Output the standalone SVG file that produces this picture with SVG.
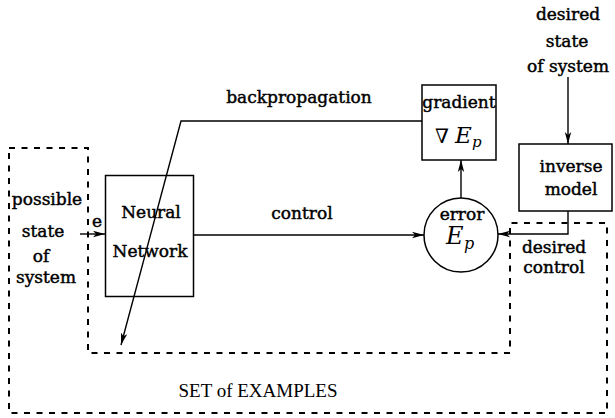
<svg xmlns="http://www.w3.org/2000/svg" width="615" height="418" viewBox="0 0 615 418">
<style>
  .t { font-family: "DejaVu Serif", "Liberation Serif", serif; font-size: 17px; fill: #000; stroke: #000; stroke-width: 0.45; text-anchor: middle; }
  .r { font-family: "Liberation Serif", "DejaVu Serif", serif; font-size: 19px; fill: #000; text-anchor: middle; }
  .m { font-family: "DejaVu Serif", "Liberation Serif", serif; font-style: italic; fill: #000; }
  .box { fill: #fff; stroke: #000; stroke-width: 1.5; }
  .ln { fill: none; stroke: #000; stroke-width: 1.4; }
  .dash { fill: none; stroke: #000; stroke-width: 2; stroke-dasharray: 6 6.5; }
</style>
<defs>
  <marker id="ah" viewBox="0 0 12 8" refX="12" refY="4" markerWidth="12" markerHeight="8" markerUnits="userSpaceOnUse" orient="auto">
    <path d="M0,0.8 L12,4 L0,7.2 L3,4 Z" fill="#000"/>
  </marker>
</defs>
<rect width="615" height="418" fill="#fff"/>

<g id="set-of-examples">
  <path class="dash" d="M9,148 L88,148 L88,353 L510,353 L510,223 L607,223 L607,413 L9,413 Z"/>
  <text class="r" x="258" y="397">SET of EXAMPLES</text>
</g>

<g id="input-label">
  <text class="t" x="47" y="205">possible</text>
  <text class="t" x="43" y="237">state</text>
  <text class="t" x="41" y="262">of</text>
  <text class="t" x="46" y="283">system</text>
</g>

<g id="desired-state-label">
  <text class="t" x="568" y="20">desired</text>
  <text class="t" x="567" y="47">state</text>
  <text class="t" x="568" y="72">of system</text>
</g>

<g id="neural-network">
  <rect class="box" x="105.5" y="175.5" width="88" height="121"/>
  <text class="t" x="151" y="218">Neural</text>
  <text class="t" x="150" y="257">Network</text>
</g>

<g id="gradient">
  <rect class="box" x="422" y="85" width="74" height="75"/>
  <text class="t" x="459" y="108" font-size="16">gradient</text>
  <text x="435" y="143" font-family="DejaVu Serif, serif" font-size="20" fill="#000">∇</text>
  <text class="m" x="455" y="143" font-size="23">E</text>
  <text class="m" x="472" y="147" font-size="15">p</text>
</g>

<g id="error">
  <circle class="box" cx="461" cy="235" r="37"/>
  <text class="t" x="462" y="220" font-size="16">error</text>
  <text class="m" x="446" y="244" font-size="24">E</text>
  <text class="m" x="464" y="249" font-size="16">p</text>
</g>

<g id="inverse-model">
  <rect class="box" x="519" y="144" width="93" height="67"/>
  <text class="t" x="571" y="172">inverse</text>
  <text class="t" x="571" y="195">model</text>
</g>

<g id="connectors">
  <line class="ln" x1="80" y1="234" x2="105" y2="234" marker-end="url(#ah)"/>
  <text class="t" x="97" y="227" font-size="15">e</text>
  <line class="ln" x1="193.5" y1="235" x2="424" y2="235" marker-end="url(#ah)"/>
  <text class="t" x="302" y="219">control</text>
  <line class="ln" x1="461" y1="198" x2="461" y2="160" marker-end="url(#ah)"/>
  <polyline class="ln" points="422,121 181,121 121,345" marker-end="url(#ah)"/>
  <text class="t" x="299" y="103">backpropagation</text>
  <line class="ln" x1="568" y1="77" x2="568" y2="144" marker-end="url(#ah)"/>
  <polyline class="ln" points="568,211 568,234 498,234" marker-end="url(#ah)"/>
  <text class="t" x="554" y="253">desired</text>
  <text class="t" x="554" y="273">control</text>
</g>
</svg>
